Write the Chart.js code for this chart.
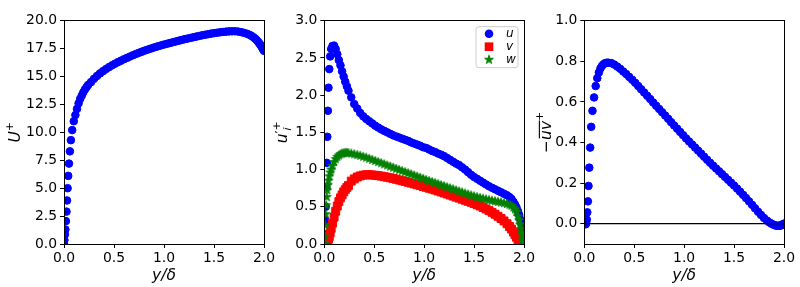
<!DOCTYPE html>
<html><head><meta charset="utf-8">
<script src="https://cdn.jsdelivr.net/npm/chart.js@4.4.0/dist/chart.umd.min.js"></script>
<style>
html,body{margin:0;padding:0;background:#fff;}
#wrap{position:relative;width:800px;height:287px;overflow:hidden;background:#fff;}
canvas{position:absolute;top:0;}
</style></head><body>
<div id="wrap">
<canvas id="c1" width="300" height="287" style="left:0px"></canvas>
<canvas id="c2" width="300" height="287" style="left:254px"></canvas>
<canvas id="c3" width="300" height="287" style="left:500px"></canvas>
</div>
<script>
// ---- data ----
const yd = [0.000,0.004,0.009,0.014,0.019,0.025,0.030,0.036,0.042,0.050,0.059,0.069,0.082,0.098,0.114,0.130,0.146,0.162,0.178,0.194,0.210,0.226,0.242,
0.27,0.30,0.33,0.36,0.39,0.42,0.45,0.48,0.51,0.54,0.57,0.60,0.63,0.66,0.69,0.72,0.75,0.78,0.81,0.84,0.87,0.90,0.93,0.96,0.99,1.02,1.05,1.08,1.11,1.14,1.17,1.20,1.23,1.26,1.29,1.32,1.35,1.38,1.41,1.44,1.47,1.50,1.53,1.56,1.59,1.62,1.65,1.68,1.71,1.74,1.77,1.80,1.83,
1.855,1.875,1.895,1.91,1.925,1.94,1.952,1.963,1.972,1.98,1.987,1.993,1.997,2.000];
const Uplus = [0.00,0.35,0.85,1.30,2.05,2.90,3.90,5.00,6.10,7.20,8.30,9.30,10.20,11.00,11.55,12.10,12.60,13.00,13.30,13.60,13.85,14.05,14.25,
14.50,14.80,15.05,15.28,15.48,15.67,15.84,16.00,16.15,16.29,16.42,16.55,16.67,16.79,16.91,17.02,17.13,17.23,17.33,17.42,17.51,17.60,17.68,17.76,17.84,17.91,17.98,18.05,18.12,18.19,18.26,18.33,18.39,18.45,18.51,18.57,18.63,18.69,18.74,18.79,18.84,18.88,18.92,18.96,18.99,19.02,19.04,19.05,19.05,19.03,18.98,18.91,18.83,
18.74,18.64,18.52,18.41,18.28,18.13,17.99,17.86,17.74,17.62,17.52,17.43,17.36,17.30];
const uRms = [0.00,0.13,0.32,0.50,0.77,1.09,1.44,1.79,2.10,2.35,2.52,2.62,2.66,2.665,2.62,2.55,2.47,2.40,2.32,2.25,2.18,2.12,2.06,
1.97,1.88,1.82,1.76,1.715,1.68,1.65,1.62,1.59,1.565,1.54,1.52,1.50,1.48,1.46,1.445,1.43,1.415,1.40,1.385,1.365,1.35,1.335,1.32,1.30,1.29,1.27,1.25,1.235,1.215,1.20,1.18,1.155,1.13,1.105,1.08,1.06,1.03,1.00,0.965,0.93,0.90,0.875,0.85,0.825,0.80,0.775,0.755,0.735,0.715,0.695,0.675,0.655,
0.63,0.605,0.565,0.53,0.49,0.44,0.39,0.33,0.28,0.22,0.17,0.12,0.09,0.06];
const vRms = [0,0,0,0.01,0.01,0.02,0.03,0.05,0.07,0.10,0.15,0.21,0.28,0.36,0.44,0.51,0.57,0.62,0.66,0.70,0.73,0.76,0.785,
0.845,0.875,0.90,0.915,0.925,0.93,0.93,0.927,0.923,0.918,0.912,0.905,0.897,0.889,0.88,0.87,0.86,0.85,0.84,0.829,0.818,0.807,0.796,0.785,0.773,0.762,0.75,0.738,0.725,0.712,0.699,0.686,0.672,0.658,0.644,0.63,0.616,0.602,0.588,0.574,0.56,0.545,0.528,0.51,0.49,0.47,0.448,0.425,0.40,0.372,0.342,0.31,0.272,
0.235,0.2,0.16,0.125,0.09,0.055,0.03,0.012,0.004,0,0,0,0,0];
const wRms = [0,0.10,0.25,0.40,0.52,0.63,0.72,0.79,0.85,0.91,0.96,1.00,1.05,1.10,1.14,1.17,1.19,1.205,1.215,1.22,1.225,1.225,1.222,
1.215,1.205,1.195,1.185,1.172,1.16,1.145,1.13,1.115,1.10,1.085,1.07,1.055,1.04,1.025,1.01,0.995,0.98,0.965,0.95,0.935,0.92,0.905,0.89,0.875,0.86,0.846,0.832,0.818,0.804,0.79,0.776,0.762,0.748,0.734,0.72,0.706,0.692,0.678,0.665,0.652,0.64,0.629,0.618,0.608,0.599,0.59,0.582,0.574,0.566,0.558,0.549,0.538,
0.527,0.513,0.49,0.465,0.43,0.37,0.32,0.26,0.2,0.15,0.1,0.055,0.025,0];
const uvMinus = [0,0,0,-0.003,0.002,0.020,0.056,0.110,0.186,0.276,0.375,0.477,0.556,0.622,0.678,0.717,0.745,0.765,0.778,0.786,0.791,0.793,0.793,
0.791,0.784,0.774,0.763,0.75,0.737,0.723,0.709,0.694,0.678,0.662,0.646,0.63,0.614,0.597,0.581,0.565,0.549,0.533,0.517,0.5,0.484,0.468,0.452,0.436,0.42,0.405,0.39,0.375,0.36,0.345,0.33,0.315,0.3,0.286,0.272,0.258,0.244,0.23,0.216,0.202,0.188,0.173,0.158,0.142,0.126,0.11,0.093,0.076,0.059,0.043,0.028,0.015,
0.006,0,-0.005,-0.008,-0.01,-0.01,-0.01,-0.009,-0.008,-0.006,-0.004,-0.002,-0.001,0];
const zeroLineX = [0, 2];
const zeroLineY = [0, 0];
const xTicks = [0, 0.5, 1.0, 1.5, 2.0];
const yTicks1 = [0, 2.5, 5, 7.5, 10, 12.5, 15, 17.5, 20];
const yTicks2 = [0, 0.5, 1.0, 1.5, 2.0, 2.5, 3.0];
const yTicks3 = [0, 0.2, 0.4, 0.6, 0.8, 1.0];
const legendLabels = ['u', 'v', 'w'];

// ---- styling ----
const FONT = '"DejaVu Sans"';
const TICK = 13.9, LAB = 15.5;
const BLUE = '#0000ff', RED = '#ff0000', GREEN = '#008000';
Chart.defaults.font.family = FONT;

function pts(xs, ys){ return xs.map((x,i)=>({x:x, y:ys[i]})); }

function starCanvas(color, R){
  const c = document.createElement('canvas');
  const S = Math.ceil(2*R+4); c.width = S; c.height = S;
  const g = c.getContext('2d');
  g.translate(S/2, S/2);
  g.beginPath();
  const r = R*0.381966;
  for(let k=0;k<10;k++){
    const a = -Math.PI/2 + k*Math.PI/5;
    const rr = (k%2===0)?R:r;
    const px = rr*Math.cos(a), py = rr*Math.sin(a);
    if(k===0) g.moveTo(px,py); else g.lineTo(px,py);
  }
  g.closePath();
  g.fillStyle = color; g.fill();
  g.strokeStyle = color; g.lineWidth = 1; g.lineJoin='miter'; g.stroke();
  return c;
}
const STAR = starCanvas(GREEN, 4.6);

function mkOpts(o){
  return {
    responsive:false, animation:false, devicePixelRatio:1, events:[],
    layout:{padding:{left:0,right:o.padR,top:20.7,bottom:0}},
    plugins:{legend:{display:false}, tooltip:{enabled:false}},
    scales:{
      x:{type:'linear', min:0, max:2,
        afterBuildTicks:s=>{ s.ticks = xTicks.map(v=>({value:v})); },
        afterFit:s=>{ s.height = 43; },
        ticks:{callback:v=>Number(v).toFixed(1), color:'#000', font:{family:FONT,size:TICK}, padding:2, maxRotation:0, autoSkip:false},
        grid:{display:true, drawOnChartArea:false, drawTicks:true, tickLength:4, color:'#000', lineWidth:1},
        border:{display:false},
        title:{display:true, text:'y/δ', color:'#000', font:{family:FONT,size:LAB,style:'italic'}, padding:{top:0,bottom:2}}
      },
      y:{type:'linear', min:o.yMin, max:o.yMax,
        afterBuildTicks:s=>{ s.ticks = o.yTicks.map(v=>({value:v})); },
        afterFit:s=>{ s.width = o.yW; },
        ticks:{callback:v=>Number(v).toFixed(1), color:'#000', font:{family:FONT,size:TICK}, padding:3, autoSkip:false},
        grid:{display:true, drawOnChartArea:false, drawTicks:true, tickLength:4, color:'#000', lineWidth:1},
        border:{display:false}
      }
    }
  };
}

const framePlugin = {id:'frame', afterDatasetsDraw(chart){
  const {ctx, chartArea:a} = chart;
  const al = v=>Math.round(v-0.5)+0.5;
  ctx.save(); ctx.strokeStyle='#000'; ctx.lineWidth=1;
  ctx.strokeRect(al(a.left), al(a.top), al(a.right)-al(a.left), al(a.bottom)-al(a.top));
  ctx.restore();
}};

function mkTitle(bx, parts){
  return {id:'ytitle', afterDraw(chart){
    const ctx = chart.ctx, a = chart.chartArea;
    const cy = (a.top + a.bottom)/2;
    ctx.save();
    ctx.translate(bx, cy); ctx.rotate(-Math.PI/2);
    ctx.fillStyle = '#000'; ctx.textBaseline = 'alphabetic'; ctx.textAlign = 'left';
    let x = 0, lastX = 0, maxEnd = 0; const items = [];
    for(const p of parts){
      const f = (p.it?'italic ':'') + p.s + 'px ' + FONT;
      ctx.font = f; const w = ctx.measureText(p.t).width;
      if(p.same) x = lastX;
      items.push({p, f, x, w});
      lastX = x; x += w + (p.k||0); maxEnd = Math.max(maxEnd, x);
    }
    const off = -maxEnd/2;
    for(const it of items){
      ctx.font = it.f;
      ctx.fillText(it.p.t, off + it.x, it.p.dy || 0);
      if(it.p.ol){ ctx.fillRect(off + it.x + 1.5, -(it.p.s*0.56 + 3), it.w - 1, 1.1); }
    }
    ctx.restore();
  }};
}

const legendPlugin = {id:'lg', afterDraw(chart){
  const ctx = chart.ctx, a = chart.chartArea;
  const bw = 42, bh = 41;
  const bx = a.right - 6 - bw, by = a.top + 6;
  ctx.save();
  const r = 3;
  ctx.beginPath();
  ctx.moveTo(bx+r, by); ctx.lineTo(bx+bw-r, by); ctx.arcTo(bx+bw, by, bx+bw, by+r, r);
  ctx.lineTo(bx+bw, by+bh-r); ctx.arcTo(bx+bw, by+bh, bx+bw-r, by+bh, r);
  ctx.lineTo(bx+r, by+bh); ctx.arcTo(bx, by+bh, bx, by+bh-r, r);
  ctx.lineTo(bx, by+r); ctx.arcTo(bx, by, bx+r, by, r); ctx.closePath();
  ctx.fillStyle = 'rgba(255,255,255,0.8)'; ctx.fill();
  ctx.strokeStyle = '#cccccc'; ctx.lineWidth = 1; ctx.stroke();
  const mx = bx + 13, tx = bx + 30;
  const rows = [by + 7, by + 20, by + 33];
  // circle
  ctx.fillStyle = BLUE; ctx.beginPath(); ctx.arc(mx, rows[0], 4.3, 0, Math.PI*2); ctx.fill();
  ctx.fillStyle = RED; ctx.fillRect(mx-4.3, rows[1]-4.3, 8.6, 8.6);
  ctx.drawImage(STAR, mx - STAR.width/2, rows[2] - STAR.height/2);
  ctx.fillStyle = '#000'; ctx.font = 'italic 12px ' + FONT; ctx.textBaseline = 'middle'; ctx.textAlign = 'left';
  legendLabels.forEach((t,i)=>ctx.fillText(t, tx, rows[i]+0.5));
  ctx.restore();
}};

// ---- chart 1 ----
new Chart(document.getElementById('c1'), {
  type:'scatter',
  data:{datasets:[{data:pts(yd,Uplus), showLine:false, pointStyle:'circle', pointRadius:3.8, pointBorderWidth:1,
    pointBackgroundColor:BLUE, pointBorderColor:BLUE, clip:0}]},
  options:mkOpts({yMin:0, yMax:20, yTicks:yTicks1, yW:64, padR:36}),
  plugins:[framePlugin, mkTitle(19.5, [{t:'U',s:LAB,it:true},{t:'+',s:LAB*0.7,dy:-LAB*0.45,k:0}])]
});

// ---- chart 2 ----
new Chart(document.getElementById('c2'), {
  type:'scatter',
  data:{datasets:[
    {label:legendLabels[0], data:pts(yd,uRms), order:3, showLine:false, pointStyle:'circle', pointRadius:3.8, pointBorderWidth:1,
      pointBackgroundColor:BLUE, pointBorderColor:BLUE, clip:0},
    {label:legendLabels[1], data:pts(yd,vRms), order:2, showLine:false, pointStyle:'rect', pointRadius:5.6, pointBorderWidth:1,
      pointBackgroundColor:RED, pointBorderColor:RED, clip:0},
    {label:legendLabels[2], data:pts(yd,wRms), order:1, showLine:false, pointStyle:STAR, pointRadius:5,
      clip:0}
  ]},
  options:mkOpts({yMin:0, yMax:3, yTicks:yTicks2, yW:70.3, padR:30}),
  plugins:[framePlugin, legendPlugin, mkTitle(33, [{t:'u',s:LAB,it:true},{t:'′',s:LAB*0.85,dy:-LAB*0.12},
    {t:'i',s:LAB*0.7,it:true,dy:LAB*0.25},{t:'+',s:LAB*0.7,dy:-LAB*0.45,same:true}])]
});

// ---- chart 3 ----
new Chart(document.getElementById('c3'), {
  type:'scatter',
  data:{datasets:[
    {data:pts(zeroLineX,zeroLineY), order:0, type:'line', showLine:true, borderColor:'#000', borderWidth:1.3, pointRadius:0, fill:false, clip:0},
    {data:pts(yd,uvMinus), order:1, showLine:false, pointStyle:'circle', pointRadius:3.8, pointBorderWidth:1,
      pointBackgroundColor:BLUE, pointBorderColor:BLUE, clip:0}
  ]},
  options:mkOpts({yMin:-0.1, yMax:1.0, yTicks:yTicks3, yW:84.3, padR:16}),
  plugins:[framePlugin, mkTitle(50.5, [{t:'−',s:LAB},{t:'uv',s:LAB,it:true,ol:true},{t:'+',s:LAB*0.7,dy:-LAB*0.5}])]
});
</script>
</body></html>
